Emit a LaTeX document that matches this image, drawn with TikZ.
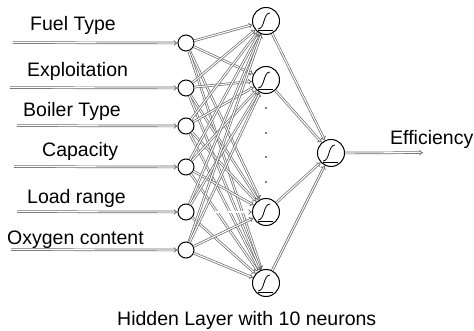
\documentclass[tikz,border=0pt]{standalone}
\usepackage{fontspec}
\setmainfont{Liberation Sans}
\usetikzlibrary{arrows.meta}
\begin{document}
\begin{tikzpicture}[x=1pt,y=-1pt,
  conn/.style={draw=black!58, line width=0.7pt, double=white, double distance=1.1pt, -{Implies[scale=1.6]}},
  inp/.style={circle, draw=black, line width=1pt, minimum size=16pt, inner sep=0pt, fill=white},
  hid/.style={circle, draw=black, line width=1pt, minimum size=27pt, inner sep=0pt, fill=white,
    path picture={
      \draw[line width=0.8pt] ([shift={(-8pt,-8pt)}]path picture bounding box.center)
        .. controls ([shift={(-1pt,-8pt)}]path picture bounding box.center)
        and ([shift={(-3pt,8pt)}]path picture bounding box.center)
        .. ([shift={(4pt,8pt)}]path picture bounding box.center);
      \draw[line width=0.8pt] ([shift={(-8pt,-9pt)}]path picture bounding box.center)
        -- ([shift={(7pt,-9pt)}]path picture bounding box.center);
    }},
  lbl/.style={font=\fontsize{19.5}{22}\selectfont, inner sep=0pt, anchor=base west},
  dotn/.style={circle, fill=black, inner sep=0pt, minimum size=1.6pt}]
\useasboundingbox (0,0) rectangle (474,331);

% input nodes
\node[inp] (i1) at (186,43) {};
\node[inp] (i2) at (186,88) {};
\node[inp] (i3) at (186,126) {};
\node[inp] (i4) at (186,167) {};
\node[inp] (i5) at (186,212) {};
\node[inp] (i6) at (186,250) {};

% input start points
\coordinate (s1) at (13,42.6);
\coordinate (s2) at (10,87.6);
\coordinate (s3) at (17,125.6);
\coordinate (s4) at (14,166.6);
\coordinate (s5) at (17,211.6);
\coordinate (s6) at (11,249.6);

% hidden nodes
\node[hid] (h1) at (266,21) {};
\node[hid] (h2) at (266,80) {};
\node[hid] (h3) at (266,212) {};
\node[hid] (h4) at (266,283) {};

% output node
\node[hid] (o) at (331,153) {};
\coordinate (e) at (423,152.6);

% dots
\node[dotn] (d1) at (266,108) {};
\node[dotn] (d2) at (266,133) {};
\node[dotn] (d3) at (266,157) {};
\node[dotn] (d4) at (266,182) {};

% labels
\node[lbl] (l1) at (30,31) {Fuel Type};
\node[lbl] (l2) at (27,77) {Exploitation};
\node[lbl] (l3) at (23,117) {Boiler Type};
\node[lbl] (l4) at (42,157) {Capacity};
\node[lbl] (l5) at (27,204) {Load range};
\node[lbl] (l6) at (7,245) {Oxygen content};
\node[lbl] (lo) at (390,145) {Efficiency};
\node[lbl] (lh) at (117,325) {Hidden Layer with 10 neurons};

% connections
\foreach \k in {1,...,6} {
  \draw[conn] (s\k) -- (i\k.west);
  \foreach \j in {1,...,4} {
    \draw[conn] (i\k) -- (h\j);
  }
}
\foreach \j in {1,...,4} {
  \draw[conn] (h\j) -- (o);
}
\draw[conn] (o.east) -- (e);
\end{tikzpicture}
\end{document}
